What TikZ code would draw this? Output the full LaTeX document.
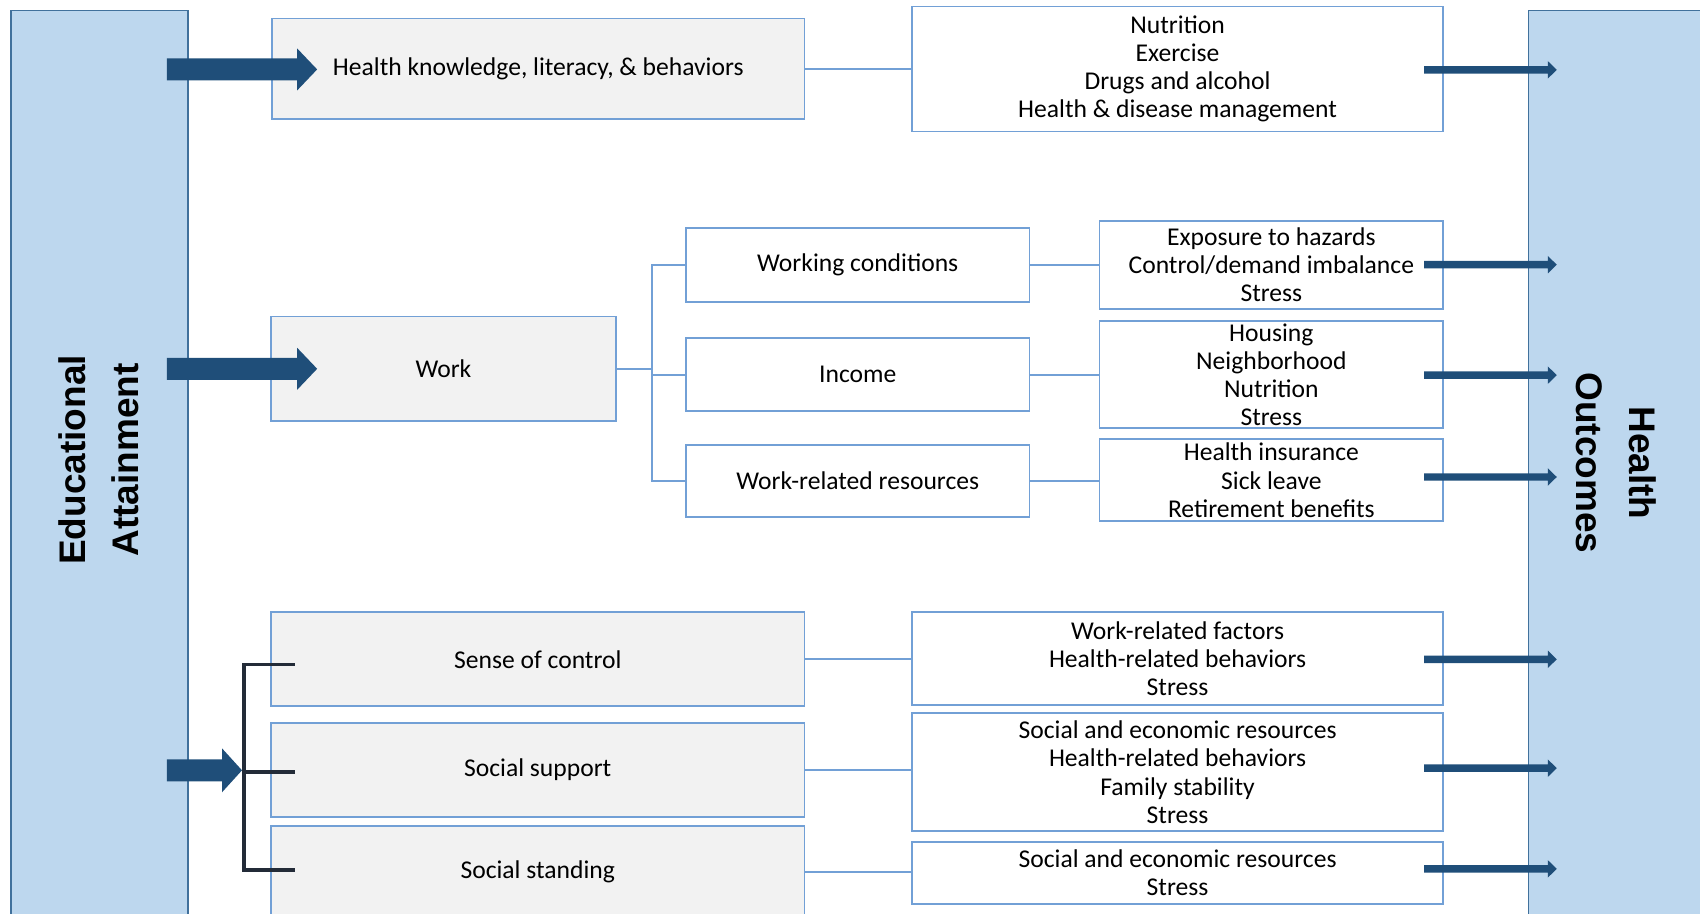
\documentclass[tikz,border=0pt]{standalone}
\usepackage{fontspec}
\setmainfont{Carlito}
\newfontfamily\titlefont{Liberation Sans}
\usetikzlibrary{calc}
\definecolor{barfill}{HTML}{BDD7EE}
\definecolor{barline}{HTML}{41719C}
\definecolor{boxline}{HTML}{72A0D6}
\definecolor{boxgray}{HTML}{F2F2F2}
\definecolor{arrowblue}{HTML}{1F4E79}
\definecolor{bracketcol}{HTML}{232B38}
\newcommand\boxfont{\fontsize{12.8pt}{14.1pt}\selectfont}
\newcommand\fatarr[5]{\fill[arrowblue] ($#1+(0,-#3)$) -- ($#2+(-#4,-#3)$) -- ($#2+(-#4,-#5)$) -- #2 -- ($#2+(-#4,#5)$) -- ($#2+(-#4,#3)$) -- ($#1+(0,#3)$) -- cycle;}
% box from corner (x1,y1) to (x2,y2) in reference pixels
\newcommand\boxnode[7]{%
  \pgfmathsetmacro\bw{(#5-#3)*0.5}\pgfmathsetmacro\bh{(#6-#4)*0.5}%
  \pgfmathsetmacro\bx{(#3+#5)/2}\pgfmathsetmacro\by{(#4+#6)/2}%
  \node[#1, minimum width=\bw pt, minimum height=\bh pt] (#2) at (\bx,\by) {#7};}
\tikzset{
  bar/.style={draw=barline, fill=barfill, line width=0.75pt, inner sep=0pt},
  graybox/.style={draw=boxline, fill=boxgray, line width=0.85pt, inner sep=0pt, align=center, font=\boxfont, text=black},
  whitebox/.style={draw=boxline, fill=white, line width=0.85pt, inner sep=0pt, align=center, font=\boxfont, text=black},
  link/.style={draw=boxline, line width=0.85pt},
  bracket/.style={draw=bracketcol, line width=1.7pt},
  titletext/.style={font={\titlefont\bfseries\fontsize{18.5pt}{26.5pt}\selectfont}, align=center, text=black, inner sep=0pt}
}
\begin{document}
\begin{tikzpicture}[x=0.5pt,y=-0.5pt]
\useasboundingbox (0,0) rectangle (1700,914);
% side bars
\boxnode{bar}{edubar}{10.8}{10.7}{188}{935}{}
\boxnode{bar}{hobar}{1528.5}{10.7}{1720}{935}{}
\node[titletext, rotate=90] (edutxt) at (98.5,460) {Educational\\Attainment};
\node[titletext, rotate=-90] (hotxt) at (1615.8,463) {Health\\Outcomes};
% top row
\boxnode{graybox}{hk}{272}{18.6}{804.5}{119.3}{Health knowledge, literacy, \& behaviors}
\boxnode{whitebox}{nut}{911.8}{6.6}{1443.3}{131.5}{Nutrition\\Exercise\\Drugs and alcohol\\Health \& disease management}
% middle
\boxnode{graybox}{work}{271}{316.6}{615.8}{421}{Work}
\boxnode{whitebox}{wc}{686}{228.3}{1029.5}{301.7}{Working conditions}
\boxnode{whitebox}{inc}{686}{338.3}{1029.5}{411}{Income}
\boxnode{whitebox}{wr}{686}{445}{1029.5}{516.7}{Work-related resources}
\boxnode{whitebox}{exp}{1099.4}{221.3}{1443.3}{308.7}{Exposure to hazards\\Control/demand imbalance\\Stress}
\boxnode{whitebox}{hou}{1099.4}{321}{1443.3}{428.3}{Housing\\Neighborhood\\Nutrition\\Stress}
\boxnode{whitebox}{ins}{1099.4}{439.3}{1443.3}{521.3}{Health insurance\\Sick leave\\Retirement benefits}
% bottom
\boxnode{graybox}{soc}{271}{612.3}{804.5}{706.3}{Sense of control}
\boxnode{graybox}{ssup}{271}{722.7}{804.5}{817}{Social support}
\boxnode{graybox}{sst}{271}{826}{804.5}{918}{Social standing}
\boxnode{whitebox}{wrf}{911.8}{612.3}{1443.3}{705.3}{Work-related factors\\Health-related behaviors\\Stress}
\boxnode{whitebox}{ser4}{911.8}{713}{1443.3}{831.3}{Social and economic resources\\Health-related behaviors\\Family stability\\Stress}
\boxnode{whitebox}{ser2}{911.8}{842}{1443.3}{903.7}{Social and economic resources\\Stress}
% links
\coordinate (trunk) at (651.7,368.8);
\draw[link] (hk.east) -- (hk.east -| nut.west);
\draw[link] (work.east) -- (trunk);
\draw[link] (wc.west) -- (wc.west -| trunk) -- (wr.west -| trunk) -- (wr.west);
\draw[link] (inc.west) -- (inc.west -| trunk);
\draw[link] (wc.east) -- (wc.east -| exp.west);
\draw[link] (inc.east) -- (inc.east -| hou.west);
\draw[link] (wr.east) -- (wr.east -| ins.west);
\draw[link] (soc.east) -- (soc.east -| wrf.west);
\draw[link] (ssup.east) -- (ssup.east -| ser4.west);
\draw[link] (sst.east) -- (sst.east -| ser2.west);
% big arrows from educational attainment
\coordinate (a1s) at ($(edubar.east |- hk.west)+(-22,0.5)$);
\coordinate (a1e) at ($(hk.west)+(46,0.5)$);
\fatarr{(a1s)}{(a1e)}{11}{20}{21}
\coordinate (a2s) at ($(edubar.east |- work.west)+(-22,0)$);
\coordinate (a2e) at ($(work.west)+(47,0)$);
\fatarr{(a2s)}{(a2e)}{11}{20}{21}
% bracket
\coordinate (bt) at (244,664.5);
\coordinate (bm) at (244,772);
\coordinate (bb) at (244,870);
\coordinate (a3s) at ($(edubar.east |- bm)+(-22,-1.7)$);
\coordinate (a3e) at ($(bm)+(-2,-1.7)$);
\fatarr{(a3s)}{(a3e)}{11}{20}{22}
\draw[bracket] ($(bt)+(50.5,0)$) -- (bt) -- (bb) -- ($(bb)+(50.5,0)$);
\draw[bracket] (bm) -- ($(bm)+(50.5,0)$);
% small arrows to health outcomes
\coordinate (r1s) at ($(nut.east)+(-20,0.8)$);
\coordinate (r2s) at ($(exp.east)+(-20,-0.3)$);
\coordinate (r3s) at ($(hou.east)+(-20,0.5)$);
\coordinate (r4s) at ($(ins.east)+(-20,-3.3)$);
\coordinate (r5s) at ($(wrf.east)+(-20,0.5)$);
\coordinate (r6s) at ($(ser4.east)+(-20,-4)$);
\coordinate (r7s) at ($(ser2.east)+(-20,-4)$);
\foreach \s in {r1s,r2s,r3s,r4s,r5s,r6s,r7s}{
  \coordinate (\s e) at ($(\s -| hobar.west)+(29,0)$);
  \fatarr{(\s)}{(\s e)}{3.7}{9}{8.8}
}
\end{tikzpicture}
\end{document}
